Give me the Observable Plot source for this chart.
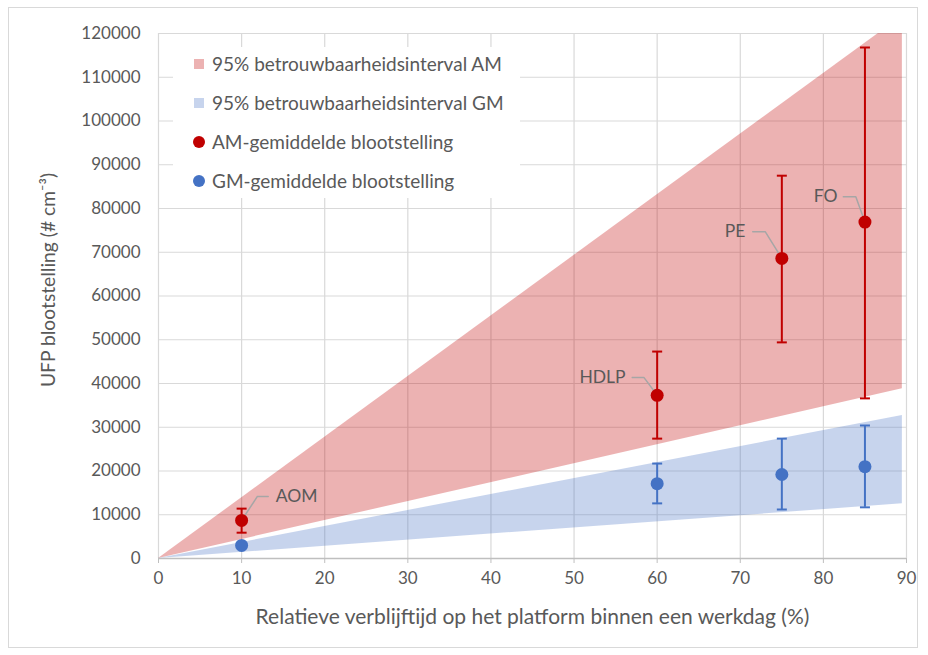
<!DOCTYPE html>
<html><head><meta charset="utf-8">
<script src="https://cdn.jsdelivr.net/npm/d3@7"></script>
<script src="https://cdn.jsdelivr.net/npm/@observablehq/plot@0.6"></script>
<style>
body{margin:0;background:#fff;font-family:Lato,sans-serif;}
#wrap{position:relative;width:928px;height:655px;overflow:hidden}
#border{position:absolute;left:8px;top:7px;width:910px;height:641px;border:1px solid #d9d9d9;box-sizing:border-box;pointer-events:none}
#legend{position:absolute;left:173px;top:47px;width:347px;height:151px;background:#fff;}
.item{position:absolute;left:0;height:20px;line-height:20px;font-size:19px;color:#595959;white-space:nowrap}
.item .mk{position:absolute;top:5px;left:21px;width:10px;height:10px}
.item .dot{position:absolute;top:4px;left:20px;width:12px;height:12px;border-radius:50%}
.item span.t{position:absolute;left:39px;top:0}
#ytitle{position:absolute;left:48px;top:280px;width:0;height:0;}
#ytitle span{position:absolute;left:0;top:0;transform:translate(-50%,-50%) rotate(-90deg);white-space:nowrap;font-size:19.3px;color:#595959;line-height:1}
</style>
</head><body>
<div id="wrap"><div id="border"></div><div id="ytitle"><span></span></div></div>
<script>
// ---- data ----
const xTicks = [0,10,20,30,40,50,60,70,80,90];
const yTicks = [0,10000,20000,30000,40000,50000,60000,70000,80000,90000,100000,110000,120000];

const bandX = [0, 89.5];
const amBandLo = [0, 38800];
const amBandHi = [0, 124000];
const gmBandLo = [0, 12500];
const gmBandHi = [0, 32700];

const pointX = [10, 60, 75, 85];
const amMean = [8700, 37300, 68600, 76900];
const amHi   = [11400, 47300, 87500, 116800];
const amLo   = [5900, 27400, 49400, 36600];
const gmMean = [3000, 17100, 19200, 21000];
const gmHi   = [3300, 21700, 27400, 30400];
const gmLo   = [2700, 12600, 11200, 11700];

const labelNames  = ["AOM", "HDLP", "PE", "FO"];
const labelAnchor = ["start", "end", "end", "end"];
const labelX      = [14.1, 56.2, 70.6, 81.7];
const labelY      = [14200, 41400, 74700, 82700];
const elbowX      = [11.9, 58.4, 73.0, 83.9];
const elbowY      = [14200, 41400, 74700, 82700];
const leaderEndX  = [13.2, 57.0, 71.5, 82.4];
const leaderEndY  = [14200, 41400, 74700, 82700];

const legendLabels = ["95% betrouwbaarheidsinterval AM","95% betrouwbaarheidsinterval GM","AM-gemiddelde blootstelling","GM-gemiddelde blootstelling"];

const xTitle = "Relatieve verblijftijd op het platform binnen een werkdag (%)";
const yTitle = "UFP blootstelling (# cm\u207B\u00B3)";

// ---- tables ----
const bandRows = bandX.map((x,i)=>({x, amLo:amBandLo[i], amHi:amBandHi[i], gmLo:gmBandLo[i], gmHi:gmBandHi[i]}));
const amRows = pointX.map((x,i)=>({x, mean:amMean[i], hi:amHi[i], lo:amLo[i]}));
const gmRows = pointX.map((x,i)=>({x, mean:gmMean[i], hi:gmHi[i], lo:gmLo[i]}));
const labelRows = labelNames.map((name,i)=>({name, x:labelX[i], y:labelY[i], anchor:labelAnchor[i]}));
const leaderRows = labelNames.flatMap((name,i)=>[
  {name, x:pointX[i], y:amMean[i]},
  {name, x:elbowX[i], y:elbowY[i]},
  {name, x:leaderEndX[i], y:leaderEndY[i]}
]);

const capSymbol = {draw(ctx, size){ const w = Math.sqrt(size/Math.PI); ctx.moveTo(-w,0); ctx.lineTo(w,0); }};

const RED = "#c00000", BLUE = "#4472c4";

const plot = Plot.plot({
  width:928, height:655,
  marginLeft:158, marginRight:22, marginTop:33, marginBottom:97,
  style:{fontFamily:"Lato, sans-serif", fontSize:"17px", color:"#595959", background:"transparent", overflow:"visible"},
  x:{domain:[0,90]},
  y:{domain:[0,120000]},
  marks:[
    Plot.gridX(xTicks,{stroke:"#d9d9d9", strokeOpacity:1, strokeWidth:1.2}),
    Plot.gridY(yTicks,{stroke:"#d9d9d9", strokeOpacity:1, strokeWidth:1.2}),
    Plot.areaY(bandRows,{x:"x", y1:"amLo", y2:"amHi", fill:RED, fillOpacity:0.3, clip:true}),
    Plot.areaY(bandRows,{x:"x", y1:"gmLo", y2:"gmHi", fill:BLUE, fillOpacity:0.3, clip:true}),
    Plot.ruleY([0],{stroke:"#bfbfbf", strokeWidth:1.5}),
    Plot.axisX({ticks:xTicks, tickSize:5, tickPadding:8, stroke:"#bfbfbf", fill:"#595959", tickFormat:d3.format("d"), label:null}),
    Plot.axisY({ticks:yTicks, tickSize:0, tickPadding:18, fill:"#595959", tickFormat:d3.format("d"), label:null}),
    Plot.text([xTitle],{frameAnchor:"bottom", dy:65, fill:"#595959", fontSize:21}),
    Plot.ruleX(amRows,{x:"x", y1:"lo", y2:"hi", stroke:RED, strokeWidth:2}),
    Plot.dot(amRows,{x:"x", y:"hi", symbol:capSymbol, r:5, stroke:RED, strokeWidth:2, fill:"none"}),
    Plot.dot(amRows,{x:"x", y:"lo", symbol:capSymbol, r:5, stroke:RED, strokeWidth:2, fill:"none"}),
    Plot.ruleX(gmRows,{x:"x", y1:"lo", y2:"hi", stroke:BLUE, strokeWidth:2}),
    Plot.dot(gmRows,{x:"x", y:"hi", symbol:capSymbol, r:5, stroke:BLUE, strokeWidth:2, fill:"none"}),
    Plot.dot(gmRows,{x:"x", y:"lo", symbol:capSymbol, r:5, stroke:BLUE, strokeWidth:2, fill:"none"}),
    Plot.line(leaderRows,{x:"x", y:"y", z:"name", stroke:"#a6a6a6", strokeWidth:1.5}),
    Plot.dot(amRows,{x:"x", y:"mean", r:6.5, fill:RED}),
    Plot.dot(gmRows,{x:"x", y:"mean", r:6.5, fill:BLUE}),
    Plot.text(labelRows.filter(d=>d.anchor==="start"),{x:"x", y:"y", text:"name", textAnchor:"start", fill:"#595959", fontSize:17.5}),
    Plot.text(labelRows.filter(d=>d.anchor==="end"),{x:"x", y:"y", text:"name", textAnchor:"end", fill:"#595959", fontSize:17.5})
  ]
});
const wrap = document.getElementById("wrap");
wrap.insertBefore(plot, wrap.firstChild);
document.querySelector("#ytitle span").textContent = yTitle;

// legend
const legend = document.createElement("div");
legend.id = "legend";
const legendCenters = [17, 56, 95, 134];
const legendKinds = [["mk", RED, 0.3],["mk", BLUE, 0.3],["dot", RED, 1],["dot", BLUE, 1]];
legendLabels.forEach((lab,i)=>{
  const it = document.createElement("div");
  it.className = "item";
  it.style.top = (legendCenters[i]-10)+"px";
  const m = document.createElement("div");
  m.className = legendKinds[i][0];
  m.style.background = legendKinds[i][1];
  m.style.opacity = legendKinds[i][2];
  const t = document.createElement("span");
  t.className = "t"; t.textContent = lab;
  it.appendChild(m); it.appendChild(t);
  legend.appendChild(it);
});
wrap.appendChild(legend);
</script>
</body></html>
